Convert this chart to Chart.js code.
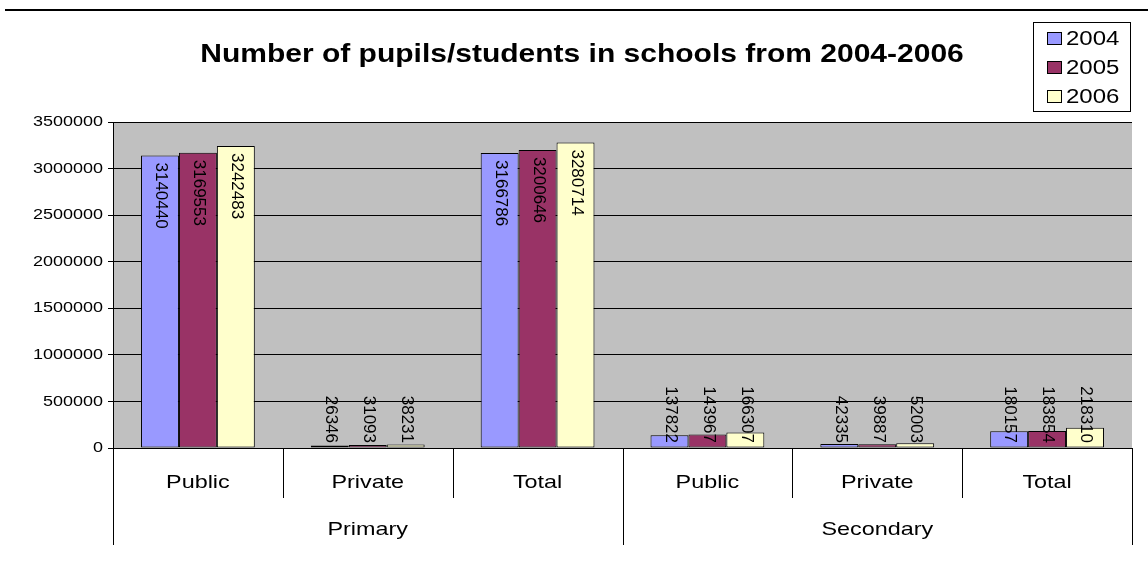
<!DOCTYPE html>
<html>
<head>
<meta charset="utf-8">
<script src="https://cdn.jsdelivr.net/npm/chart.js@4/dist/chart.umd.min.js"></script>
<style>
  html, body { margin: 0; padding: 0; background: #fff; }
  #wrap { width: 1148px; height: 567px; position: relative; }
</style>
</head>
<body>
<div id="wrap"><canvas id="c" width="1148" height="567"></canvas></div>
<script>
// School types, grouped by level
const categories = ['Public', 'Private', 'Total', 'Public', 'Private', 'Total'];
const levels = ['Primary', 'Secondary'];
const levelSpan = 3; // categories per level
const years = ['2004', '2005', '2006'];

// Pupils/students per year
const pupils2004 = [3140440, 26346, 3166786, 137822, 42335, 180157];
const pupils2005 = [3169553, 31093, 3200646, 143967, 39887, 183854];
const pupils2006 = [3242483, 38231, 3280714, 166307, 52003, 218310];

// Value axis
const yMin = 0;
const yMax = 3500000;
const yStep = 500000;

const title = 'Number of pupils/students in schools from 2004-2006';
const seriesColors = ['#9999ff', '#993366', '#ffffcc'];

const FONT = '"Liberation Sans", Arial, sans-serif';
const SX = 1.2; // wide glyph proportions

function wideText(ctx, text, x, y, font, align, base, sx) {
  ctx.save();
  ctx.font = font;
  ctx.fillStyle = '#000';
  ctx.textAlign = align;
  ctx.textBaseline = base || 'middle';
  ctx.translate(x, y);
  ctx.scale(sx || SX, 1);
  ctx.fillText(text, 0, 0);
  ctx.restore();
}

const decorPlugin = {
  id: 'decor',
  beforeDraw(chart) {
    const { ctx, chartArea: a } = chart;
    ctx.save();
    ctx.fillStyle = '#fff';
    ctx.fillRect(0, 0, chart.width, chart.height);
    ctx.fillStyle = '#c0c0c0';
    ctx.fillRect(a.left, a.top, a.right - a.left, a.bottom - a.top);
    ctx.restore();
  },
  afterDraw(chart) {
    const { ctx, chartArea: a } = chart;
    const xs = chart.scales.x;
    const ys = chart.scales.y;

    // rule across the top
    ctx.save();
    ctx.strokeStyle = '#000';
    ctx.lineWidth = 2;
    ctx.beginPath();
    ctx.moveTo(5, 10);
    ctx.lineTo(chart.width, 10);
    ctx.stroke();
    ctx.restore();

    // title
    wideText(ctx, title, 582, 55, 'bold 25px ' + FONT, 'center', 'middle');

    // value tick labels
    ys.ticks.forEach(t => {
      const y = ys.getPixelForValue(t.value);
      wideText(ctx, String(t.value), a.left - 10, y, '15px ' + FONT, 'right', 'middle');
    });

    // category table under the plot
    const n = categories.length;
    const half = (xs.getPixelForValue(1) - xs.getPixelForValue(0)) / 2;
    ctx.save();
    ctx.strokeStyle = '#000';
    ctx.lineWidth = 1;
    for (let i = 0; i <= n; i++) {
      const x = Math.round(i < n ? xs.getPixelForValue(i) - half : xs.getPixelForValue(n - 1) + half) + 0.5;
      const long = i % levelSpan === 0;
      ctx.beginPath();
      ctx.moveTo(x, a.bottom);
      ctx.lineTo(x, long ? a.bottom + 97 : a.bottom + 50);
      ctx.stroke();
    }
    ctx.restore();
    categories.forEach((c, i) => {
      wideText(ctx, c, xs.getPixelForValue(i), a.bottom + 35, '19px ' + FONT, 'center', 'middle', 1.23);
    });
    levels.forEach((l, g) => {
      const x0 = xs.getPixelForValue(g * levelSpan) - half;
      const x1 = xs.getPixelForValue(g * levelSpan + levelSpan - 1) + half;
      wideText(ctx, l, (x0 + x1) / 2, a.bottom + 82, '19px ' + FONT, 'center', 'middle', 1.23);
    });

    // legend
    const lx = 1033, ly = 22, lw = 97, lh = 89;
    ctx.save();
    ctx.fillStyle = '#fff';
    ctx.fillRect(lx, ly, lw, lh);
    ctx.strokeStyle = '#000';
    ctx.lineWidth = 1;
    ctx.strokeRect(lx + 0.5, ly + 0.5, lw, lh);
    chart.data.datasets.forEach((ds, i) => {
      const cy = 38 + i * 29;
      ctx.fillStyle = ds.backgroundColor;
      ctx.fillRect(1047, cy - 6, 14, 12);
      ctx.strokeRect(1047.5, cy - 5.5, 14, 12);
      wideText(ctx, ds.label, 1066, cy + 1, '20px ' + FONT, 'left', 'middle', 1.2);
    });
    ctx.restore();
  },
  afterDatasetsDraw(chart) {
    const { ctx, chartArea: a } = chart;
    ctx.save();
    ctx.font = '17px ' + FONT;
    ctx.fillStyle = '#000';
    ctx.textAlign = 'left';
    ctx.textBaseline = 'middle';
    chart.data.datasets.forEach((ds, di) => {
      const meta = chart.getDatasetMeta(di);
      meta.data.forEach((bar, i) => {
        const txt = String(ds.data[i]);
        const w = ctx.measureText(txt).width;
        let start = bar.y + 7;
        if (start + w > a.bottom - 5) start = a.bottom - 5 - w;
        ctx.save();
        ctx.translate(bar.x + 1, start);
        ctx.rotate(Math.PI / 2);
        ctx.fillText(txt, 0, 0);
        ctx.restore();
      });
    });
    ctx.restore();
  }
};

const series = [pupils2004, pupils2005, pupils2006];

new Chart(document.getElementById('c'), {
  type: 'bar',
  data: {
    labels: categories,
    datasets: years.map((y, i) => ({
      label: y,
      data: series[i],
      backgroundColor: seriesColors[i],
      borderColor: '#000',
      borderWidth: 1,
      borderSkipped: false,
      categoryPercentage: 0.67,
      barPercentage: 1.0
    }))
  },
  options: {
    responsive: false,
    animation: false,
    devicePixelRatio: 1,
    layout: { padding: { top: 122, bottom: 119, right: 16, left: 0 } },
    plugins: {
      legend: { display: false },
      title: { display: false },
      tooltip: { enabled: false }
    },
    scales: {
      x: { display: false },
      y: {
        min: yMin,
        max: yMax,
        ticks: { stepSize: yStep, display: false },
        grid: { color: '#000', lineWidth: 1, drawTicks: true, tickLength: 5 },
        border: { color: '#000', width: 1 },
        afterFit(scale) { scale.width = 113; }
      }
    }
  },
  plugins: [decorPlugin]
});
</script>
</body>
</html>
